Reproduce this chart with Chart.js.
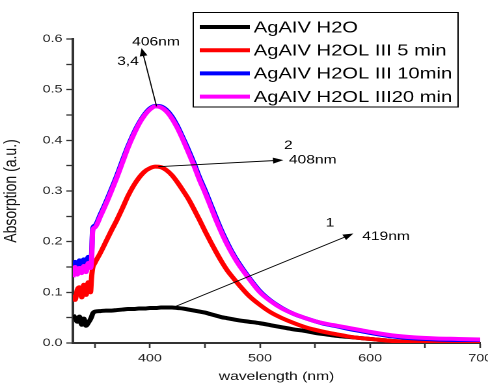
<!DOCTYPE html>
<html>
<head>
<meta charset="utf-8">
<script src="https://cdn.jsdelivr.net/npm/chart.js@4"></script>
<style>
    body { margin: 0; background: #fff; }
    /* the original figure is a horizontally stretched export, so draw narrow and stretch */
    #wrap { width: 375px; height: 388px; transform: scaleX(1.30133); transform-origin: 0 0; }
</style>
</head>
<body>
<div id="wrap"><canvas id="spectraChart"></canvas></div>
<script>
const wavelengths = [330, 332, 334, 336, 338, 340, 342, 344, 346, 347, 348, 350, 355, 360, 365, 370, 375, 380, 385, 390,
    395, 400, 405, 410, 415, 420, 425, 430, 435, 440, 445, 450, 455, 460, 465, 470, 475, 480, 490, 500,
    510, 520, 530, 540, 550, 560, 570, 580, 590, 600, 620, 640, 660, 680, 700];

const seriesLabels = ['AgAIV H2O', 'AgAIV H2OL III 5 min', 'AgAIV H2OL III 10min', 'AgAIV H2OL III20 min'];
const seriesColors = ['#000000', '#ff0000', '#0000ff', '#ff00ff'];

const h2o = [0.055, 0.050, 0.042, 0.052, 0.036, 0.048, 0.034, 0.040, 0.047, 0.052, 0.058, 0.062, 0.063, 0.064, 0.064, 0.065, 0.066, 0.067, 0.067, 0.068,
    0.068, 0.069, 0.069, 0.070, 0.070, 0.070, 0.069, 0.068, 0.066, 0.064, 0.062, 0.060, 0.057, 0.054, 0.051, 0.049, 0.047, 0.045, 0.042, 0.039,
    0.035, 0.031, 0.027, 0.024, 0.020, 0.017, 0.014, 0.012, 0.010, 0.008, 0.004, 0.002, 0.001, 0.000, 0.000];

const min5 = [0.095, 0.085, 0.105, 0.110, 0.090, 0.115, 0.095, 0.120, 0.100, 0.130, 0.148, 0.158, 0.178, 0.200, 0.222, 0.243, 0.266, 0.290, 0.310, 0.326,
    0.338, 0.345, 0.348, 0.347, 0.341, 0.331, 0.317, 0.301, 0.284, 0.264, 0.243, 0.221, 0.200, 0.180, 0.161, 0.144, 0.130, 0.117, 0.093, 0.075,
    0.060, 0.049, 0.040, 0.032, 0.026, 0.021, 0.017, 0.013, 0.010, 0.008, 0.004, 0.002, 0.001, 0.000, 0.000];

const min10 = [0.148, 0.160, 0.150, 0.163, 0.155, 0.165, 0.158, 0.170, 0.163, 0.175, 0.226, 0.232, 0.254, 0.278, 0.304, 0.331, 0.360, 0.388, 0.413, 0.434,
    0.451, 0.463, 0.468, 0.467, 0.460, 0.447, 0.428, 0.405, 0.381, 0.355, 0.327, 0.302, 0.275, 0.248, 0.222, 0.199, 0.178, 0.160, 0.129, 0.102,
    0.083, 0.069, 0.058, 0.050, 0.043, 0.037, 0.033, 0.028, 0.024, 0.020, 0.013, 0.009, 0.007, 0.006, 0.006];

const min20 = [0.130, 0.150, 0.135, 0.148, 0.138, 0.152, 0.140, 0.158, 0.148, 0.165, 0.222, 0.228, 0.250, 0.274, 0.300, 0.327, 0.356, 0.385, 0.410, 0.432,
    0.449, 0.461, 0.467, 0.465, 0.457, 0.443, 0.424, 0.401, 0.376, 0.350, 0.322, 0.297, 0.270, 0.243, 0.218, 0.195, 0.175, 0.157, 0.127, 0.100,
    0.082, 0.068, 0.058, 0.050, 0.043, 0.038, 0.034, 0.030, 0.026, 0.022, 0.015, 0.011, 0.009, 0.008, 0.007];

const xMajorTicks = [400, 500, 600, 700];
const xMinorTicks = [350, 450, 550, 650];
const yMajorTicks = [0, 0.1, 0.2, 0.3, 0.4, 0.5, 0.6];
const yMinorTicks = [0.05, 0.15, 0.25, 0.35, 0.45, 0.55];

// peak arrows: start (wavelength, absorption) -> end
const arrowStarts = [[406, 0.467], [407.6, 0.348], [422, 0.071]];
const arrowEnds = [[392.4, 0.582], [521.2, 0.361], [584.8, 0.216]];
const noteTexts = ['406nm', '3,4', '408nm', '2', '419nm', '1'];
const notePoints = [[405.5, 0.594], [380, 0.555], [547.9, 0.361], [525.7, 0.389], [614.5, 0.21], [563.6, 0.236]];

const FONT = 'Arial, "Liberation Sans", sans-serif';

function toPoints(values) {
    return wavelengths.map((w, i) => ({ x: w, y: values[i] }));
}

const notesPlugin = {
    id: 'notes',
    afterDatasetsDraw(chart) {
        const ctx = chart.ctx;
        const xs = chart.scales.x;
        const ys = chart.scales.y;
        ctx.save();
        ctx.strokeStyle = '#000';
        ctx.fillStyle = '#000';
        ctx.lineWidth = 0.9;
        arrowStarts.forEach((s, i) => {
            const x0 = xs.getPixelForValue(s[0]);
            const y0 = ys.getPixelForValue(s[1]);
            const x1 = xs.getPixelForValue(arrowEnds[i][0]);
            const y1 = ys.getPixelForValue(arrowEnds[i][1]);
            const ang = Math.atan2(y1 - y0, x1 - x0);
            ctx.beginPath();
            ctx.moveTo(x0, y0);
            ctx.lineTo(x1 - 6 * Math.cos(ang), y1 - 6 * Math.sin(ang));
            ctx.stroke();
            ctx.beginPath();
            ctx.moveTo(x1, y1);
            ctx.lineTo(x1 - 8 * Math.cos(ang) + 3 * Math.sin(ang), y1 - 8 * Math.sin(ang) - 3 * Math.cos(ang));
            ctx.lineTo(x1 - 8 * Math.cos(ang) - 3 * Math.sin(ang), y1 - 8 * Math.sin(ang) + 3 * Math.cos(ang));
            ctx.closePath();
            ctx.fill();
        });
        ctx.font = '12px ' + FONT;
        ctx.textAlign = 'center';
        ctx.textBaseline = 'middle';
        noteTexts.forEach((t, i) => {
            ctx.fillText(t, xs.getPixelForValue(notePoints[i][0]), ys.getPixelForValue(notePoints[i][1]));
        });

        // boxed legend inside the plot
        ctx.fillStyle = '#fff';
        ctx.fillRect(148.5, 12.5, 203.5, 94.5);
        ctx.strokeStyle = '#000';
        ctx.lineWidth = 1;
        ctx.strokeRect(148.5, 12.5, 203.5, 94.5);
        ctx.font = '15.5px ' + FONT;
        ctx.textAlign = 'left';
        chart.data.datasets.forEach((ds, i) => {
            const y = 27 + i * 23.2;
            ctx.strokeStyle = ds.borderColor;
            ctx.lineWidth = 4;
            ctx.beginPath();
            ctx.moveTo(153.5, y);
            ctx.lineTo(192, y);
            ctx.stroke();
            ctx.fillStyle = '#000';
            ctx.fillText(ds.label, 195, y + 1);
        });
        ctx.restore();
    }
};

const datasetList = [h2o, min5, min10, min20].map((vals, i) => ({
    label: seriesLabels[i],
    data: toPoints(vals),
    borderColor: seriesColors[i],
    backgroundColor: seriesColors[i],
    borderWidth: 4,
    pointRadius: 0,
    cubicInterpolationMode: 'monotone',
    order: 3 - i
}));

new Chart(document.getElementById('spectraChart'), {
    type: 'line',
    data: { datasets: datasetList },
    options: {
        responsive: true,
        maintainAspectRatio: false,
        animation: false,
        devicePixelRatio: 2,
        layout: { padding: { top: 39, right: 6, left: 0, bottom: 0 } },
        plugins: {
            legend: { display: false },
            tooltip: { enabled: false }
        },
        scales: {
            x: {
                type: 'linear',
                min: 330,
                max: 700,
                afterBuildTicks: (scale) => {
                    scale.ticks = xMinorTicks.concat(xMajorTicks).sort((a, b) => a - b).map(v => ({ value: v }));
                },
                afterFit: (scale) => {
                    scale.height = 45;
                    scale.paddingLeft = 0;
                    scale.paddingRight = 0;
                },
                ticks: {
                    autoSkip: false,
                    maxRotation: 0,
                    padding: 4,
                    color: '#222',
                    font: { family: FONT, size: 11 },
                    callback: (v) => xMajorTicks.includes(v) ? String(v) : ''
                },
                grid: { drawOnChartArea: false, drawTicks: true, tickLength: 5, tickColor: '#333', tickWidth: 1.3 },
                border: { color: '#333', width: 2 },
                title: { display: true, text: 'wavelength (nm)', color: '#111', font: { family: FONT, size: 12 }, padding: { top: 6 } }
            },
            y: {
                type: 'linear',
                min: 0,
                max: 0.6,
                afterBuildTicks: (scale) => {
                    scale.ticks = yMinorTicks.concat(yMajorTicks).sort((a, b) => a - b).map(v => ({ value: v }));
                },
                afterFit: (scale) => {
                    scale.width = 56;
                },
                ticks: {
                    autoSkip: false,
                    padding: 3,
                    color: '#222',
                    font: { family: FONT, size: 11 },
                    callback: (v) => yMajorTicks.some(t => Math.abs(t - v) < 1e-9) ? v.toFixed(1) : ''
                },
                grid: { drawOnChartArea: false, drawTicks: true, tickLength: 5, tickColor: '#333', tickWidth: 1.3 },
                border: { color: '#333', width: 2 },
                title: { display: true, text: 'Absorption (a.u.)', color: '#111', font: { family: FONT, size: 14 }, padding: { top: 0, bottom: 0 } }
            }
        }
    },
    plugins: [notesPlugin]
});
</script>
</body>
</html>
